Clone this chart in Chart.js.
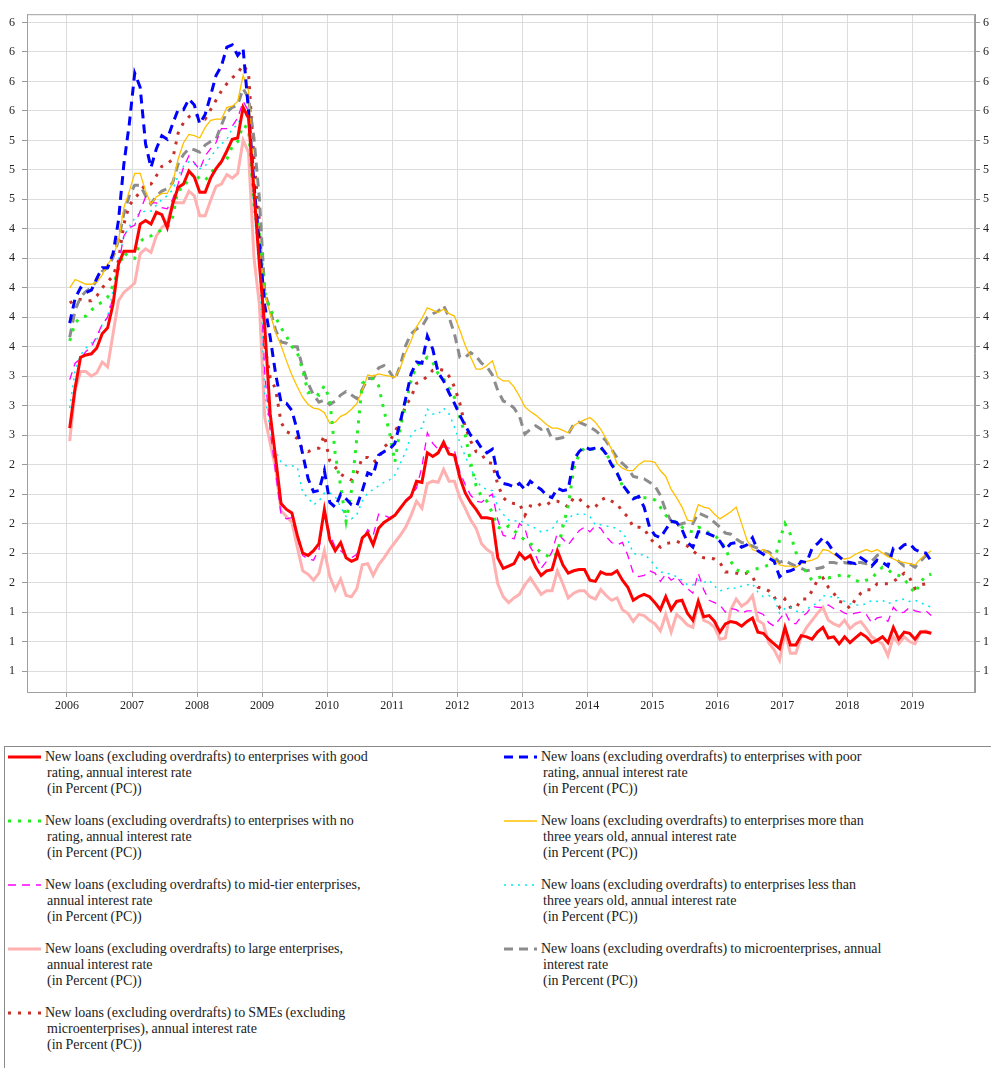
<!DOCTYPE html>
<html>
<head>
<meta charset="utf-8">
<script src="https://cdn.jsdelivr.net/npm/chart.js@4.4.1/dist/chart.umd.min.js"></script>
<style>
  body { margin: 0; background: #fff; font-family: "Liberation Serif", serif; }
  #wrap { position: relative; width: 991px; height: 1068px; overflow: hidden; }
  #mycanvas { position: absolute; left: 0; top: 0; }
  #legendbox { position: absolute; left: 4px; top: 746px; width: 990px; height: 340px;
               border-top: 1px solid #8a8a8a; border-left: 1px solid #8a8a8a; }
  .item { position: absolute; font-size: 14px; line-height: 16px; word-spacing: -0.5px; color: #222; white-space: nowrap; }
  .item .l2 { padding-left: 2px; }
  .item svg { position: absolute; left: -37px; top: 4px; }
</style>
</head>
<body>
<div id="wrap">
  <canvas id="mycanvas" width="991" height="722"></canvas>
  <div id="legendbox"></div>
  <div id="legend"></div>
</div>
<script>
// monthly series, Jan 2006 .. Apr 2019 (one row per year)
const goodRating = [
  2.81, 3.15, 3.41, 3.43, 3.44, 3.49, 3.61, 3.66, 3.86, 4.20, 4.31, 4.31,
  4.31, 4.54, 4.57, 4.54, 4.64, 4.62, 4.51, 4.71, 4.85, 4.88, 4.99, 4.94,
  4.81, 4.81, 4.93, 5.01, 5.07, 5.16, 5.26, 5.27, 5.53, 5.44, 4.82, 4.20,
  3.67, 2.93, 2.56, 2.17, 2.12, 2.09, 1.90, 1.75, 1.73, 1.77, 1.83, 2.12,
  1.86, 1.77, 1.84, 1.71, 1.68, 1.70, 1.88, 1.92, 1.82, 1.96, 2.01, 2.04,
  2.07, 2.13, 2.19, 2.23, 2.36, 2.35, 2.60, 2.57, 2.60, 2.69, 2.59, 2.58,
  2.39, 2.26, 2.18, 2.12, 2.05, 2.05, 2.04, 1.71, 1.62, 1.64, 1.66, 1.75,
  1.70, 1.73, 1.63, 1.56, 1.60, 1.61, 1.77, 1.65, 1.58, 1.60, 1.61, 1.61,
  1.52, 1.51, 1.59, 1.57, 1.57, 1.60, 1.52, 1.46, 1.35, 1.38, 1.40, 1.38,
  1.33, 1.27, 1.38, 1.27, 1.34, 1.35, 1.24, 1.18, 1.34, 1.21, 1.22, 1.17,
  1.08, 1.15, 1.17, 1.16, 1.13, 1.17, 1.20, 1.08, 1.07, 1.02, 0.98, 0.94,
  1.12, 0.97, 0.97, 1.05, 1.04, 1.02, 1.08, 1.12, 1.03, 1.04, 0.98, 1.04,
  0.99, 1.03, 1.07, 1.04, 0.99, 1.01, 1.04, 0.99, 1.12, 1.02, 1.08, 1.07,
  1.02, 1.08, 1.08, 1.07
];
const poorRating = [
  3.70, 3.91, 4.00, 3.96, 3.98, 4.08, 4.17, 4.17, 4.29, 4.57, 5.05, 5.39,
  5.82, 5.70, 5.22, 5.02, 5.18, 5.29, 5.26, 5.39, 5.51, 5.51, 5.60, 5.55,
  5.39, 5.47, 5.63, 5.80, 5.88, 6.04, 6.06, 5.97, 6.03, 5.50, 4.88, 4.37,
  3.85, 3.58, 3.27, 3.03, 3.02, 2.96, 2.79, 2.59, 2.38, 2.27, 2.28, 2.45,
  2.18, 2.14, 2.25, 2.21, 2.16, 2.15, 2.28, 2.43, 2.41, 2.58, 2.61, 2.63,
  2.68, 2.86, 3.06, 3.27, 3.37, 3.36, 3.59, 3.48, 3.28, 3.21, 3.11, 3.02,
  2.92, 2.83, 2.75, 2.71, 2.64, 2.60, 2.63, 2.41, 2.34, 2.33, 2.31, 2.34,
  2.29, 2.36, 2.32, 2.29, 2.24, 2.22, 2.30, 2.28, 2.29, 2.54, 2.61, 2.65,
  2.63, 2.64, 2.65, 2.59, 2.50, 2.43, 2.33, 2.27, 2.21, 2.23, 2.14, 1.97,
  1.90, 1.88, 1.95, 2.02, 2.01, 1.95, 1.84, 1.80, 1.93, 1.93, 1.91, 1.89,
  1.85, 1.78, 1.83, 1.84, 1.80, 1.82, 1.88, 1.77, 1.74, 1.71, 1.68, 1.55,
  1.59, 1.60, 1.62, 1.68, 1.67, 1.79, 1.83, 1.88, 1.83, 1.76, 1.72, 1.68,
  1.67, 1.66, 1.71, 1.68, 1.64, 1.69, 1.67, 1.64, 1.79, 1.78, 1.82, 1.83,
  1.78, 1.76, 1.75, 1.68
];
const noRating = [
  3.55, 3.70, 3.75, 3.76, 3.81, 3.85, 3.88, 3.92, 4.02, 4.16, 4.30, 4.26,
  4.25, 4.39, 4.43, 4.44, 4.47, 4.49, 4.51, 4.60, 4.83, 4.84, 4.93, 4.98,
  4.92, 4.91, 4.97, 5.03, 5.06, 5.09, 5.20, 5.24, 5.38, 5.35, 4.71, 4.46,
  3.96, 3.81, 3.75, 3.66, 3.59, 3.50, 3.45, 3.30, 3.11, 3.12, 3.09, 3.17,
  3.05, 2.59, 2.32, 2.02, 2.28, 2.73, 3.19, 3.22, 3.23, 3.17, 2.96, 2.78,
  2.52, 2.81, 3.02, 3.21, 3.34, 3.37, 3.41, 3.37, 3.27, 3.23, 3.15, 3.07,
  2.90, 2.75, 2.52, 2.32, 2.23, 2.19, 2.09, 1.97, 1.95, 1.98, 1.94, 1.90,
  1.86, 1.83, 1.80, 1.75, 1.73, 1.71, 1.75, 1.97, 2.15, 2.46, 2.59, 2.64,
  2.63, 2.63, 2.64, 2.59, 2.52, 2.43, 2.32, 2.27, 2.22, 2.22, 2.22, 2.22,
  2.20, 2.14, 2.07, 2.03, 2.01, 1.97, 1.94, 1.93, 1.97, 1.95, 1.92, 1.90,
  1.86, 1.79, 1.68, 1.61, 1.59, 1.59, 1.61, 1.62, 1.63, 1.65, 1.67, 1.86,
  2.00, 1.91, 1.76, 1.67, 1.58, 1.52, 1.54, 1.55, 1.54, 1.55, 1.56, 1.57,
  1.55, 1.52, 1.50, 1.52, 1.53, 1.59, 1.63, 1.61, 1.57, 1.56, 1.53, 1.47,
  1.41, 1.50, 1.56, 1.57
];
const olderThan3 = [
  4.00, 4.07, 4.05, 4.03, 4.03, 4.05, 4.11, 4.20, 4.26, 4.40, 4.68, 4.82,
  4.97, 4.97, 4.82, 4.71, 4.77, 4.80, 4.80, 4.89, 5.09, 5.23, 5.30, 5.29,
  5.27, 5.36, 5.42, 5.43, 5.43, 5.53, 5.54, 5.58, 5.80, 5.67, 4.93, 4.34,
  3.95, 3.78, 3.62, 3.51, 3.38, 3.26, 3.16, 3.07, 3.01, 2.98, 2.97, 2.94,
  2.85, 2.86, 2.91, 2.93, 2.97, 3.02, 3.13, 3.26, 3.25, 3.27, 3.26, 3.25,
  3.24, 3.32, 3.45, 3.55, 3.67, 3.74, 3.83, 3.81, 3.79, 3.82, 3.78, 3.76,
  3.64, 3.51, 3.41, 3.31, 3.31, 3.34, 3.38, 3.24, 3.21, 3.21, 3.16, 3.08,
  2.99, 2.95, 2.92, 2.88, 2.84, 2.81, 2.81, 2.79, 2.77, 2.83, 2.86, 2.88,
  2.90, 2.86, 2.80, 2.72, 2.63, 2.51, 2.47, 2.45, 2.45, 2.50, 2.53, 2.53,
  2.52, 2.45, 2.40, 2.29, 2.22, 2.14, 2.03, 2.02, 2.16, 2.14, 2.13, 2.08,
  2.04, 2.07, 2.10, 2.14, 2.00, 1.86, 1.78, 1.76, 1.78, 1.75, 1.70, 1.65,
  1.64, 1.64, 1.63, 1.66, 1.68, 1.69, 1.71, 1.78, 1.77, 1.74, 1.71, 1.70,
  1.71, 1.74, 1.76, 1.78, 1.76, 1.78, 1.75, 1.72, 1.70, 1.68, 1.67, 1.66,
  1.65, 1.70, 1.74, 1.77
];
const midTier = [
  3.22, 3.36, 3.40, 3.46, 3.50, 3.59, 3.69, 3.75, 3.92, 4.20, 4.44, 4.51,
  4.53, 4.65, 4.77, 4.72, 4.72, 4.68, 4.67, 4.75, 4.88, 5.02, 5.12, 5.06,
  5.00, 5.12, 5.18, 5.23, 5.35, 5.35, 5.37, 5.44, 5.58, 5.50, 4.85, 4.34,
  3.27, 2.79, 2.43, 2.08, 2.04, 2.05, 1.88, 1.73, 1.70, 1.69, 1.78, 2.11,
  1.91, 1.80, 1.77, 1.73, 1.71, 1.74, 1.86, 1.95, 1.90, 2.08, 2.07, 2.05,
  2.07, 2.13, 2.20, 2.24, 2.30, 2.48, 2.77, 2.68, 2.63, 2.65, 2.64, 2.62,
  2.44, 2.33, 2.24, 2.19, 2.18, 2.22, 2.25, 2.03, 1.90, 1.89, 1.87, 2.00,
  1.96, 1.80, 1.73, 1.62, 1.68, 1.76, 1.92, 1.87, 1.82, 1.88, 1.94, 1.97,
  1.93, 1.98, 1.96, 1.89, 1.84, 1.82, 1.84, 1.73, 1.58, 1.55, 1.56, 1.60,
  1.58, 1.51, 1.57, 1.52, 1.55, 1.49, 1.45, 1.41, 1.58, 1.44, 1.35, 1.33,
  1.31, 1.25, 1.28, 1.27, 1.24, 1.26, 1.26, 1.25, 1.23, 1.16, 1.13, 1.19,
  1.25, 1.16, 1.15, 1.21, 1.24, 1.30, 1.29, 1.29, 1.31, 1.28, 1.27, 1.24,
  1.23, 1.24, 1.25, 1.23, 1.16, 1.20, 1.21, 1.17, 1.29, 1.24, 1.25, 1.29,
  1.26, 1.25, 1.26, 1.22
];
const youngerThan3 = [
  2.98, 3.30, 3.43, 3.49, 3.53, 3.56, 3.69, 3.75, 3.98, 4.23, 4.44, 4.52,
  4.59, 4.64, 4.65, 4.65, 4.70, 4.75, 4.78, 4.83, 4.95, 5.03, 5.07, 5.05,
  5.01, 5.03, 5.11, 5.17, 5.22, 5.26, 5.35, 5.38, 5.49, 5.44, 4.65, 4.20,
  3.10, 2.79, 2.62, 2.52, 2.49, 2.49, 2.48, 2.26, 2.22, 2.16, 2.19, 2.26,
  2.26, 2.23, 2.14, 2.06, 2.04, 2.08, 2.19, 2.26, 2.29, 2.32, 2.35, 2.37,
  2.41, 2.51, 2.61, 2.75, 2.80, 2.81, 2.97, 2.93, 2.93, 2.98, 2.93, 2.82,
  2.69, 2.57, 2.47, 2.37, 2.31, 2.29, 2.28, 2.14, 2.08, 2.03, 2.02, 2.03,
  2.00, 1.98, 1.96, 1.93, 1.94, 1.95, 2.02, 1.98, 2.04, 2.08, 2.08, 2.08,
  2.06, 1.99, 1.99, 1.98, 1.97, 1.96, 1.92, 1.86, 1.75, 1.73, 1.74, 1.70,
  1.64, 1.59, 1.58, 1.57, 1.55, 1.52, 1.48, 1.48, 1.52, 1.50, 1.52, 1.47,
  1.43, 1.44, 1.46, 1.45, 1.47, 1.48, 1.49, 1.42, 1.38, 1.39, 1.37, 1.24,
  1.28, 1.29, 1.26, 1.24, 1.27, 1.31, 1.32, 1.39, 1.38, 1.38, 1.37, 1.34,
  1.32, 1.31, 1.31, 1.32, 1.35, 1.34, 1.35, 1.32, 1.34, 1.35, 1.36, 1.34,
  1.35, 1.33, 1.31, 1.29
];
const largeEnt = [
  2.70, 3.13, 3.29, 3.29, 3.25, 3.28, 3.37, 3.33, 3.61, 3.89, 3.96, 4.00,
  4.04, 4.29, 4.33, 4.30, 4.44, 4.51, 4.55, 4.72, 4.72, 4.72, 4.82, 4.78,
  4.61, 4.61, 4.74, 4.86, 4.88, 4.96, 4.93, 4.97, 5.25, 5.15, 4.26, 3.86,
  2.90, 2.68, 2.47, 2.11, 2.06, 2.01, 1.80, 1.60, 1.57, 1.52, 1.58, 1.77,
  1.55, 1.44, 1.53, 1.39, 1.38, 1.45, 1.65, 1.66, 1.56, 1.65, 1.71, 1.78,
  1.84, 1.90, 1.97, 2.07, 2.19, 2.13, 2.34, 2.36, 2.35, 2.46, 2.36, 2.36,
  2.22, 2.13, 2.03, 1.96, 1.83, 1.78, 1.75, 1.49, 1.38, 1.33, 1.37, 1.40,
  1.48, 1.54, 1.47, 1.40, 1.43, 1.43, 1.60, 1.49, 1.37, 1.41, 1.43, 1.43,
  1.38, 1.36, 1.44, 1.39, 1.35, 1.37, 1.27, 1.24, 1.17, 1.23, 1.22, 1.18,
  1.15, 1.09, 1.23, 1.08, 1.23, 1.19, 1.14, 1.12, 1.34, 1.18, 1.16, 1.12,
  1.02, 1.03, 1.27, 1.36, 1.30, 1.33, 1.39, 1.18, 1.15, 0.99, 0.93, 0.84,
  1.08, 0.90, 0.90, 1.04, 1.12, 1.18, 1.24, 1.29, 1.18, 1.15, 1.13, 1.18,
  1.11, 1.15, 1.17, 1.11, 1.04, 1.01, 0.98, 0.88, 1.04, 0.98, 1.04, 1.00,
  0.98, 1.08, 1.09, 1.07
];
const microEnt = [
  3.58, 3.81, 3.92, 3.97, 4.00, 4.06, 4.14, 4.17, 4.26, 4.40, 4.63, 4.78,
  4.87, 4.87, 4.78, 4.71, 4.78, 4.82, 4.84, 4.89, 5.05, 5.13, 5.18, 5.17,
  5.15, 5.21, 5.24, 5.26, 5.38, 5.49, 5.53, 5.55, 5.69, 5.61, 5.27, 4.76,
  3.96, 3.81, 3.64, 3.54, 3.53, 3.50, 3.50, 3.32, 3.19, 3.09, 3.03, 3.05,
  3.01, 3.04, 3.09, 3.12, 3.09, 3.06, 3.14, 3.23, 3.23, 3.32, 3.34, 3.29,
  3.22, 3.34, 3.51, 3.61, 3.65, 3.67, 3.75, 3.78, 3.80, 3.85, 3.75, 3.61,
  3.41, 3.41, 3.45, 3.42, 3.36, 3.33, 3.26, 3.13, 3.04, 3.02, 2.98, 2.91,
  2.76, 2.80, 2.83, 2.80, 2.82, 2.72, 2.72, 2.73, 2.76, 2.84, 2.86, 2.84,
  2.82, 2.79, 2.75, 2.70, 2.63, 2.56, 2.51, 2.47, 2.40, 2.39, 2.38, 2.35,
  2.32, 2.24, 2.11, 2.02, 1.98, 2.00, 2.01, 2.00, 2.09, 2.07, 2.05, 2.01,
  1.97, 1.92, 1.91, 1.87, 1.84, 1.83, 1.81, 1.79, 1.77, 1.76, 1.72, 1.67,
  1.69, 1.66, 1.64, 1.62, 1.60, 1.61, 1.62, 1.63, 1.67, 1.67, 1.66, 1.67,
  1.66, 1.67, 1.67, 1.66, 1.68, 1.73, 1.75, 1.74, 1.71, 1.68, 1.64, 1.66,
  1.63, 1.68, 1.73, 1.76
];
const smeEnt = [
  3.87, 3.90, 3.90, 3.89, 3.89, 3.93, 4.00, 4.05, 4.10, 4.23, 4.54, 4.70,
  4.76, 4.81, 4.88, 4.88, 4.95, 5.03, 5.05, 5.09, 5.31, 5.40, 5.45, 5.48,
  5.44, 5.43, 5.51, 5.59, 5.67, 5.73, 5.78, 5.82, 5.89, 5.82, 5.10, 4.57,
  3.51, 3.24, 3.14, 2.86, 2.78, 2.76, 2.72, 2.63, 2.61, 2.63, 2.64, 2.75,
  2.53, 2.48, 2.42, 2.39, 2.37, 2.43, 2.56, 2.56, 2.52, 2.55, 2.65, 2.69,
  2.78, 2.86, 3.00, 3.07, 3.19, 3.21, 3.25, 3.30, 3.31, 3.30, 3.25, 3.16,
  3.02, 2.82, 2.70, 2.61, 2.59, 2.52, 2.51, 2.33, 2.22, 2.18, 2.17, 2.17,
  2.07, 2.15, 2.14, 2.17, 2.16, 2.19, 2.19, 2.17, 2.14, 2.22, 2.21, 2.17,
  2.13, 2.14, 2.20, 2.22, 2.19, 2.17, 2.10, 2.06, 1.97, 1.97, 1.96, 1.88,
  1.83, 1.80, 1.83, 1.84, 1.85, 1.83, 1.81, 1.77, 1.73, 1.71, 1.71, 1.70,
  1.67, 1.59, 1.59, 1.58, 1.57, 1.58, 1.55, 1.46, 1.45, 1.43, 1.38, 1.29,
  1.36, 1.29, 1.28, 1.36, 1.36, 1.43, 1.52, 1.54, 1.46, 1.41, 1.34, 1.33,
  1.28, 1.36, 1.41, 1.44, 1.44, 1.49, 1.49, 1.49, 1.51, 1.54, 1.58, 1.54,
  1.45, 1.48, 1.49, 1.49
];

const yearTicks = [2006, 2007, 2008, 2009, 2010, 2011, 2012, 2013, 2014, 2015, 2016, 2017, 2018, 2019];
const yTicks = [0.75, 1, 1.25, 1.5, 1.75, 2, 2.25, 2.5, 2.75, 3, 3.25, 3.5, 3.75, 4, 4.25, 4.5, 4.75, 5, 5.25, 5.5, 5.75, 6, 6.25];

const series = [
  { label: 'New loans (excluding overdrafts) to enterprises with good|rating, annual interest rate|(in Percent (PC))', data: goodRating, color: '#ff0000', width: 3, dash: [] },
  { label: 'New loans (excluding overdrafts) to enterprises with poor|rating, annual interest rate|(in Percent (PC))', data: poorRating, color: '#0000ff', width: 3, dash: [9, 6] },
  { label: 'New loans (excluding overdrafts) to enterprises with no|rating, annual interest rate|(in Percent (PC))', data: noRating, color: '#22ee22', width: 3, dash: [3, 7] },
  { label: 'New loans (excluding overdrafts) to enterprises more than|three years old, annual interest rate|(in Percent (PC))', data: olderThan3, color: '#ffc000', width: 1.3, dash: [] },
  { label: 'New loans (excluding overdrafts) to mid-tier enterprises,|annual interest rate|(in Percent (PC))', data: midTier, color: '#ff00ff', width: 1.3, dash: [8, 6] },
  { label: 'New loans (excluding overdrafts) to enterprises less than|three years old, annual interest rate|(in Percent (PC))', data: youngerThan3, color: '#00e8f0', width: 1.5, dash: [2, 5] },
  { label: 'New loans (excluding overdrafts) to large enterprises,|annual interest rate|(in Percent (PC))', data: largeEnt, color: '#ffb0b0', width: 3, dash: [] },
  { label: 'New loans (excluding overdrafts) to microenterprises, annual|interest rate|(in Percent (PC))', data: microEnt, color: '#8c8c8c', width: 3, dash: [9, 6] },
  { label: 'New loans (excluding overdrafts) to SMEs (excluding|microenterprises), annual interest rate|(in Percent (PC))', data: smeEnt, color: '#c8302a', width: 3, dash: [3, 7] }
];

// mid-month positions on a year axis
const monthX = goodRating.map((v, i) => 2006 + (i + 0.5) / 12);

function halfEven(v) {
  const f = Math.floor(v);
  if (Math.abs(v - f - 0.5) < 1e-9) return String(f % 2 === 0 ? f : f + 1);
  return String(Math.round(v));
}

const frame = {
  id: 'frame',
  afterDraw(chart) {
    const a = chart.chartArea, c = chart.ctx;
    c.save();
    c.strokeStyle = '#a0a0a0';
    c.lineWidth = 1;
    c.strokeRect(a.left + 0.5, a.top + 0.5, a.right - a.left - 1, a.bottom - a.top);
    c.restore();
  }
};

const tickFont = { family: '"Liberation Serif", serif', size: 12 };

const mycanvas = document.getElementById('mycanvas').getContext('2d');
const chart = new Chart(mycanvas, {
  type: 'line',
  data: {
    datasets: series.map(s => ({
      label: s.label.replace(/\|/g, ' '),
      data: s.data.map((v, i) => ({ x: monthX[i], y: v })),
      borderColor: s.color,
      backgroundColor: s.color,
      borderWidth: s.width,
      borderDash: s.dash,
      pointRadius: 0,
      tension: 0,
      fill: false
    }))
  },
  options: {
    responsive: false,
    animation: false,
    events: [],
    layout: { padding: { top: 13, left: 0, right: 0, bottom: 0 } },
    plugins: { legend: { display: false }, tooltip: { enabled: false } },
    scales: {
      x: {
        type: 'linear',
        min: 2005.385,
        max: 2019.964,
        afterBuildTicks: axis => { axis.ticks = yearTicks.map(v => ({ value: v })); },
        afterFit: axis => { axis.height = 30; },
        grid: { color: '#dcdcdc', tickLength: 5, tickColor: '#9a9a9a' },
        border: { color: '#9a9a9a' },
        ticks: { color: '#222', font: tickFont, padding: 2, maxRotation: 0, callback: v => String(v) }
      },
      y: {
        position: 'left',
        min: 0.572,
        max: 6.32,
        afterBuildTicks: axis => { axis.ticks = yTicks.map(v => ({ value: v })); },
        afterFit: axis => { axis.width = 27; },
        grid: { color: '#dcdcdc', tickLength: 5, tickColor: '#9a9a9a' },
        border: { color: '#9a9a9a' },
        ticks: { color: '#222', font: tickFont, padding: 7, callback: v => halfEven(v) }
      },
      y2: {
        position: 'right',
        min: 0.572,
        max: 6.32,
        afterBuildTicks: axis => { axis.ticks = yTicks.map(v => ({ value: v })); },
        afterFit: axis => { axis.width = 16; },
        grid: { drawOnChartArea: false, tickLength: 5, color: '#9a9a9a' },
        border: { color: '#9a9a9a' },
        ticks: { color: '#222', font: tickFont, padding: 3, callback: v => halfEven(v) }
      }
    }
  },
  plugins: [frame]
});

// html legend, two columns
const legend = document.getElementById('legend');
series.forEach((s, i) => {
  const col = i % 2, row = Math.floor(i / 2);
  const div = document.createElement('div');
  div.className = 'item';
  div.style.left = (col === 0 ? 45 : 541) + 'px';
  div.style.top = (749 + row * 64) + 'px';
  const lines = s.label.split('|');
  const dash = s.dash.length ? ` stroke-dasharray="${s.dash.join(' ')}"` : '';
  div.innerHTML =
    `<svg width="33" height="8"><line x1="0" y1="4" x2="33" y2="4" stroke="${s.color}" stroke-width="${s.width}"${dash}/></svg>` +
    lines.map((t, k) => `<div class="${k ? 'l2' : ''}">${t}</div>`).join('');
  legend.appendChild(div);
});
</script>
</body>
</html>
